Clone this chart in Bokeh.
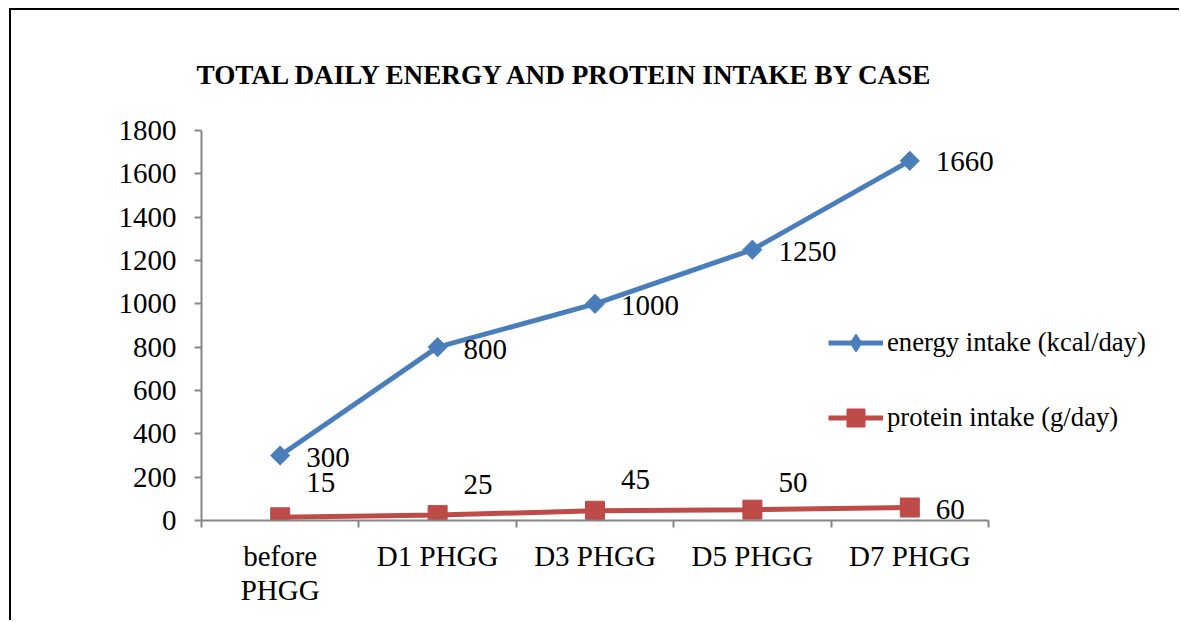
import numpy as np
from bokeh.plotting import figure
from bokeh.models import (ColumnDataSource, FixedTicker, Range1d, Legend,
                          LegendItem, LabelSet, Title)
from bokeh.core.properties import value
from bokeh.embed import file_html
from bokeh.resources import INLINE

# ---------------- data ----------------
CATEGORIES = ["before\nPHGG", "D1 PHGG", "D3 PHGG", "D5 PHGG", "D7 PHGG"]
ENERGY = [300, 800, 1000, 1250, 1660]
PROTEIN = [15, 25, 45, 50, 60]
Y_TICKS = [0, 200, 400, 600, 800, 1000, 1200, 1400, 1600, 1800]
TITLE = "TOTAL DAILY ENERGY AND PROTEIN INTAKE BY CASE"
ENERGY_NAME = "energy intake (kcal/day)"
PROTEIN_NAME = "protein intake (g/day)"

# label placement (screen px, positive = up)
ENERGY_LABEL_DY = [-2, -2, -2, -2, -1]
PROTEIN_LABEL_DY = [35, 31, 31, 27, -2]

FONT = "Liberation Serif"
BLUE = "#4A7EBB"
RED = "#BE4B48"
AXIS_GRAY = "#868686"

# ---------------- layout (pixels) ----------------
W, H = 1170, 612            # canvas size (inside the page border)
LEFT, TOP, BOTTOM = 190, 85, 102
AXIS_W, AXIS_H = 787, 390   # visible extent of the axes
FRAME_W = W - LEFT
FRAME_H = H - TOP - BOTTOM

n = len(CATEGORIES)
xs = list(range(1, n + 1))
x0, x1 = 0.5, n + 0.5
y0, y1 = Y_TICKS[0], Y_TICKS[-1]

src_e = ColumnDataSource(dict(x=xs, y=ENERGY, t=[str(v) for v in ENERGY], dy=ENERGY_LABEL_DY))
src_p = ColumnDataSource(dict(x=xs, y=PROTEIN, t=[str(v) for v in PROTEIN], dy=PROTEIN_LABEL_DY))

p = figure(width=W, height=H, output_backend="svg", toolbar_location=None,
           x_range=Range1d(x0, x0 + (x1 - x0) * FRAME_W / AXIS_W),
           y_range=Range1d(y0, y0 + (y1 - y0) * FRAME_H / AXIS_H),
           min_border_left=LEFT, min_border_right=0, min_border_top=TOP,
           min_border_bottom=BOTTOM)
p.styles = {"position": "relative", "left": "9px", "top": "8px",
            "border-top": "2px solid black", "border-left": "2px solid black",
            "border-right": "none", "border-bottom": "none"}
p.outline_line_color = None
p.xgrid.visible = False
p.ygrid.visible = False
p.background_fill_color = "white"
p.border_fill_color = "white"

p.title = Title(text=TITLE, align="left", offset=-5, standoff=12,
                text_font=FONT, text_font_size="27.2px", text_font_style="bold",
                text_color="black")

# y axis
ya = p.yaxis[0]
ya.bounds = (y0, y1)
ya.ticker = FixedTicker(ticks=Y_TICKS)
ya.axis_line_color = AXIS_GRAY
ya.axis_line_width = 2
ya.major_tick_line_color = AXIS_GRAY
ya.major_tick_line_width = 2
ya.major_tick_out = 7
ya.major_tick_in = 0
ya.minor_tick_line_color = None
ya.major_label_text_font = FONT
ya.major_label_text_font_size = "29px"
ya.major_label_text_color = "black"
ya.major_label_standoff = 18

# x axis (category labels at centres, tick marks at boundaries)
xa = p.xaxis[0]
xa.bounds = (x0, x1)
xa.ticker = FixedTicker(ticks=xs, minor_ticks=[x - 0.5 for x in xs] + [x1])
xa.major_label_overrides = {x: c for x, c in zip(xs, CATEGORIES)}
xa.axis_line_color = AXIS_GRAY
xa.axis_line_width = 2
xa.major_tick_line_color = None
xa.major_tick_out = 0
xa.major_tick_in = 0
xa.minor_tick_line_color = AXIS_GRAY
xa.minor_tick_line_width = 2
xa.minor_tick_out = 7
xa.minor_tick_in = 0
xa.major_label_text_font = FONT
xa.major_label_text_font_size = "29px"
xa.major_label_text_line_height = 1.07
xa.major_label_text_color = "black"
xa.major_label_standoff = 12

# series
le = p.line("x", "y", source=src_e, line_color=BLUE, line_width=5)
# narrow diamond, used for the legend swatch (hidden under the plot markers)
leg_e = p.scatter("x", "y", source=src_e, marker="diamond", size=18,
                  fill_color=BLUE, line_color=BLUE)
me = p.scatter("x", "y", source=src_e, marker="square", angle=np.pi / 4, size=13.5,
               fill_color=BLUE, line_color=BLUE)
lp = p.line("x", "y", source=src_p, line_color=RED, line_width=5)
mp = p.scatter("x", "y", source=src_p, marker="square", size=19,
               fill_color=RED, line_color=RED)

# data labels
for src in (src_e, src_p):
    p.add_layout(LabelSet(x="x", y="y", text="t", source=src, x_offset=26, y_offset="dy",
                          text_font=value(FONT), text_font_size=value("29px"),
                          text_color="black", text_baseline="middle", text_align="left"))

# legend
legend = Legend(items=[LegendItem(label=ENERGY_NAME, renderers=[le, leg_e]),
                       LegendItem(label=PROTEIN_NAME, renderers=[lp, mp])],
                location=(627, 80), orientation="vertical",
                glyph_width=55, glyph_height=45, label_height=45, spacing=30,
                label_standoff=4, padding=0, margin=0,
                border_line_color=None, background_fill_alpha=0,
                label_text_font=FONT, label_text_font_size="26.7px",
                label_text_color="black")
p.add_layout(legend)

open("out.html", "w").write(file_html(p, INLINE))
